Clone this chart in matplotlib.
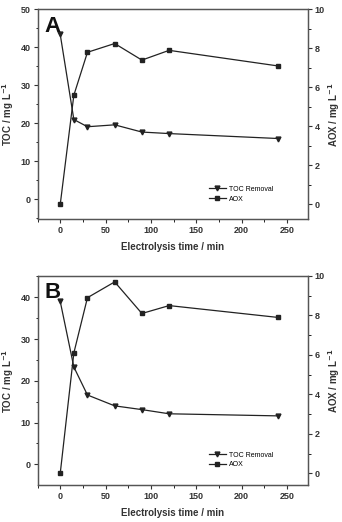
import matplotlib
matplotlib.use("Agg")
import matplotlib.pyplot as plt
from matplotlib.ticker import MultipleLocator

plt.rcParams['font.family'] = ['Liberation Sans', 'DejaVu Sans']

time_min = [0, 15, 30, 60, 90, 120, 240]

# panel A
toc_a = [43.4, 21.0, 19.1, 19.6, 17.7, 17.3, 16.0]
aox_a = [0.0, 5.6, 7.8, 8.25, 7.4, 7.9, 7.1]

# panel B
toc_b = [39.0, 23.3, 16.6, 14.0, 13.1, 12.1, 11.6]
aox_b = [0.0, 6.1, 8.9, 9.7, 8.1, 8.5, 7.9]

panels = [
    ("A", toc_a, aox_a, (-5.3, 50), (-0.77, 10), [0.1098, 0.5797, 0.7906, 0.4023]),
    ("B", toc_b, aox_b, (-4.95, 45.1), (-0.59, 10), [0.1098, 0.0709, 0.7906, 0.4004]),
]

col = '#222222'
fig = plt.figure(figsize=(3.42, 5.22), dpi=100)

for letter, toc, aox, ylim_l, ylim_r, rect in panels:
    ax = fig.add_axes(rect)
    ax2 = ax.twinx()

    l1, = ax.plot(time_min, toc, '-v', color=col, lw=0.9, ms=3.5, label='TOC Removal')
    l2, = ax2.plot(time_min, aox, '-s', color=col, lw=0.9, ms=3, label='AOX')

    ax.set_xlim(-25, 273)
    ax.set_ylim(*ylim_l)
    ax2.set_ylim(*ylim_r)

    ax.xaxis.set_major_locator(MultipleLocator(50))
    ax.xaxis.set_minor_locator(MultipleLocator(25))
    ax.yaxis.set_major_locator(MultipleLocator(10))
    ax.yaxis.set_minor_locator(MultipleLocator(5))
    ax2.yaxis.set_major_locator(MultipleLocator(2))
    ax2.yaxis.set_minor_locator(MultipleLocator(1))

    for a in (ax, ax2):
        a.tick_params(which='major', direction='out', length=3, width=0.8,
                      labelsize=6.5, colors='#333333', pad=2)
        a.tick_params(which='minor', direction='out', length=1.8, width=0.6)
        for lab in a.get_xticklabels() + a.get_yticklabels():
            lab.set_fontweight('bold')
        for s in a.spines.values():
            s.set_color('#555555')
            s.set_linewidth(0.9)

    ax.set_xlabel('Electrolysis time / min', fontsize=7, fontweight='bold',
                  color='#333333', labelpad=5)
    ax.set_ylabel('TOC / mg L$^{\\mathbf{-1}}$', fontsize=7, fontweight='bold',
                  color='#333333', labelpad=3)
    ax2.set_ylabel('AOX / mg L$^{\\mathbf{-1}}$', fontsize=7, fontweight='bold',
                   color='#333333', labelpad=1)

    ax.text(0.025, 0.97, letter, transform=ax.transAxes, fontsize=16,
            fontweight='bold', va='top', ha='left', color='#111111')

    ax.legend([l1, l2], ['TOC Removal', 'AOX'], loc='lower right',
              bbox_to_anchor=(0.895, 0.05), frameon=False, fontsize=5,
              handlelength=2.5, handletextpad=0.4, labelspacing=0.4)

fig.savefig('out.png', dpi=100)
